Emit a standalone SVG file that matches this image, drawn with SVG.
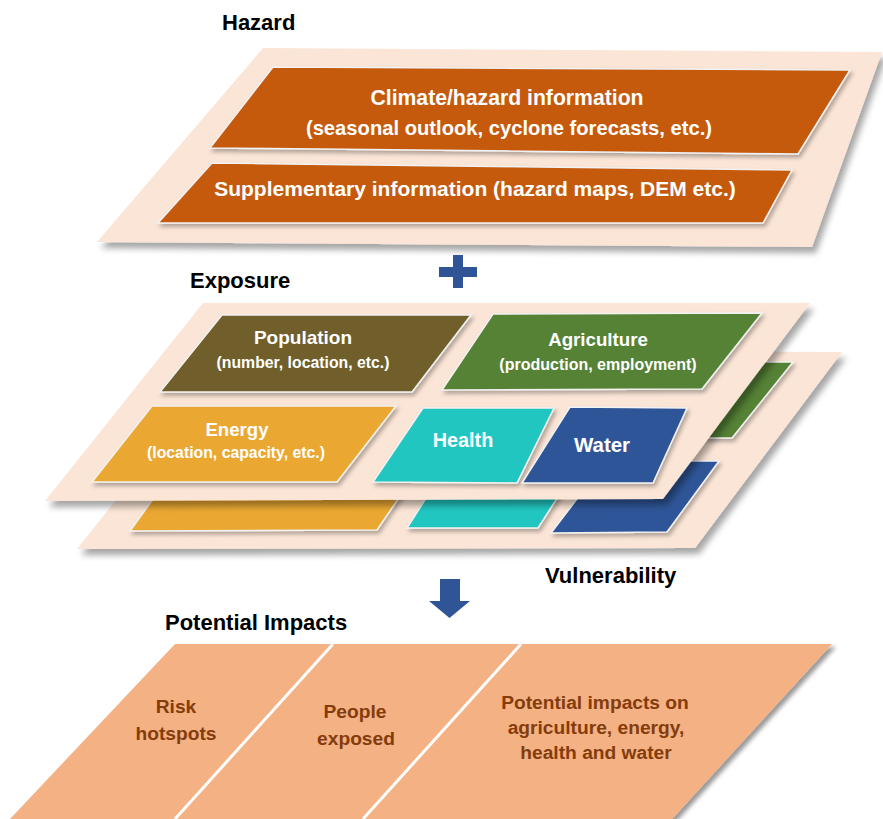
<svg xmlns="http://www.w3.org/2000/svg" width="883" height="819" viewBox="0 0 883 819">
  <defs>
    <filter id="plateShadow" x="-10%" y="-10%" width="125%" height="130%">
      <feDropShadow dx="4" dy="6" stdDeviation="3" flood-color="#000" flood-opacity="0.35"/>
    </filter>
    <filter id="boxShadow" x="-10%" y="-10%" width="125%" height="135%">
      <feDropShadow dx="2" dy="3" stdDeviation="2" flood-color="#000" flood-opacity="0.3"/>
    </filter>
    <filter id="panelShadow" x="-10%" y="-10%" width="125%" height="130%">
      <feDropShadow dx="4" dy="3" stdDeviation="2" flood-color="#000" flood-opacity="0.4"/>
    </filter>
  </defs>
  <style>
    .plate { fill: #FBE5D6; filter: url(#plateShadow); }
    .box { stroke: #F2F2F2; stroke-width: 1.5; filter: url(#boxShadow); }
    .haz { fill: #C55A11; }
    .pop { fill: #705F29; }
    .agr { fill: #548235; }
    .ene { fill: #EAA831; }
    .hea { fill: #23C6C1; }
    .wat { fill: #2F5597; }
    .lbl { font-family: "Liberation Sans", Arial, sans-serif; font-weight: bold; font-size: 22px; fill: #000; }
    .wt { font-family: "Liberation Sans", Arial, sans-serif; font-weight: bold; fill: #FFFFFF; text-anchor: middle; }
    .bt { font-family: "Liberation Sans", Arial, sans-serif; font-weight: bold; fill: #843C0C; text-anchor: middle; font-size: 19.2px; }
    .sym { fill: #2F5597; }
  </style>

  <!-- Hazard layer -->
  <g id="hazard">
    <text class="lbl" x="222" y="30">Hazard</text>
    <polygon class="plate" points="263,48 882,52 812,247 97,242"/>
    <g id="climate-info">
      <polygon class="box haz" points="273,67 850,70 798,154 210,148"/>
      <text class="wt" font-size="21.2" x="507" y="105">Climate/hazard information</text>
      <text class="wt" font-size="20.2" x="509" y="135">(seasonal outlook, cyclone forecasts, etc.)</text>
    </g>
    <g id="supplementary-info">
      <polygon class="box haz" points="212,163 792,170 763,223 158,223"/>
      <text class="wt" font-size="21" x="475" y="196">Supplementary information (hazard maps, DEM etc.)</text>
    </g>
  </g>

  <!-- Plus sign -->
  <g id="plus">
    <rect class="sym" x="439" y="267" width="38" height="10"/>
    <rect class="sym" x="453" y="255" width="10" height="33"/>
  </g>

  <!-- Vulnerability layer (behind exposure) -->
  <g id="vulnerability">
    <polygon class="plate" points="235,351 842,352 695,548 77,549"/>
    <polygon class="box agr" points="540,362 793,362 732,438 480,438"/>
    <polygon class="box ene" points="185,455 428,455 377,530 130,531"/>
    <polygon class="box hea" points="453,456 584,456 538,528 407,528"/>
    <polygon class="box wat" points="606,461 719,461 667,532 551,533"/>
    <text class="lbl" x="545" y="583">Vulnerability</text>
  </g>

  <!-- Exposure layer -->
  <g id="exposure">
    <text class="lbl" x="190" y="288">Exposure</text>
    <polygon class="plate" points="203,303 810,303 663,499 45,501"/>
    <g id="population">
      <polygon class="box pop" points="222,315 471,315 412,392 160,392"/>
      <text class="wt" font-size="19" x="303" y="344">Population</text>
      <text class="wt" font-size="15.8" x="303" y="368">(number, location, etc.)</text>
    </g>
    <g id="agriculture">
      <polygon class="box agr" points="493,314 762,313 702,389 442,390"/>
      <text class="wt" font-size="18.7" x="598" y="346">Agriculture</text>
      <text class="wt" font-size="16" x="598" y="370">(production, employment)</text>
    </g>
    <g id="energy">
      <polygon class="box ene" points="152,406 396,406 337,482 92,482"/>
      <text class="wt" font-size="18.6" x="237" y="436">Energy</text>
      <text class="wt" font-size="15.8" x="236" y="458">(location, capacity, etc.)</text>
    </g>
    <g id="health">
      <polygon class="box hea" points="423,408 554,408 517,483 373,482"/>
      <text class="wt" font-size="19.8" x="463" y="447">Health</text>
    </g>
    <g id="water">
      <polygon class="box wat" points="570,407 687,408 653,483 522,483"/>
      <text class="wt" font-size="20.5" x="602" y="452">Water</text>
    </g>
  </g>

  <!-- Down arrow -->
  <g id="down-arrow">
    <polygon class="sym" points="440,579 460,579 460,601 470,601 449.5,618 429,601 440,601"/>
  </g>

  <!-- Potential impacts layer -->
  <g id="impacts">
    <text class="lbl" x="165" y="630">Potential Impacts</text>
    <polygon fill="#F4B183" filter="url(#panelShadow)" points="175,644 832,644 672,819 10,819"/>
    <g id="impact-dividers" stroke="#FFFFFF" stroke-width="3">
      <line x1="333" y1="644" x2="175" y2="819"/>
      <line x1="521" y1="644" x2="363" y2="819"/>
    </g>
    <g id="risk-hotspots">
      <text class="bt" x="176" y="713">Risk</text>
      <text class="bt" x="176" y="740">hotspots</text>
    </g>
    <g id="people-exposed">
      <text class="bt" x="355" y="718">People</text>
      <text class="bt" x="356" y="745">exposed</text>
    </g>
    <g id="sector-impacts">
      <text class="bt" x="595" y="709">Potential impacts on</text>
      <text class="bt" x="596" y="734">agriculture, energy,</text>
      <text class="bt" x="596" y="759">health and water</text>
    </g>
  </g>
</svg>
